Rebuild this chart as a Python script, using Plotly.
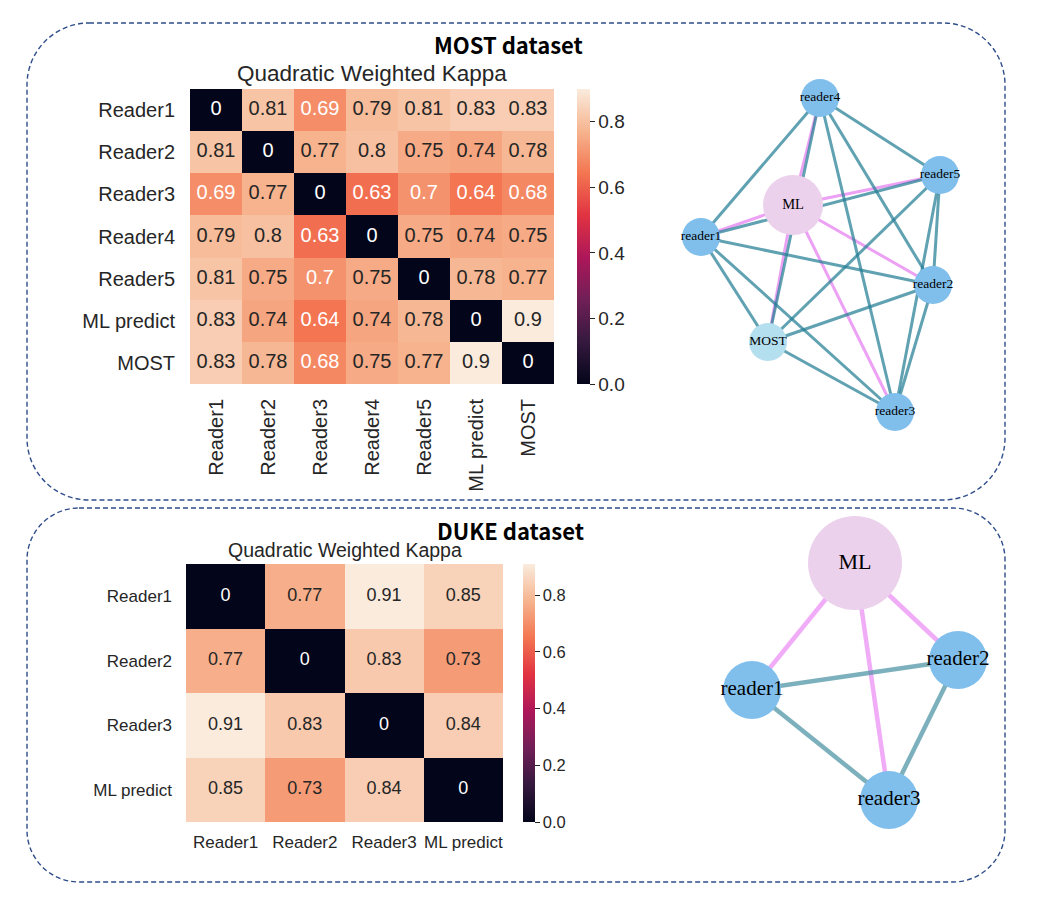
import plotly.graph_objects as go

W, H = 1045, 900
SANS = "Liberation Sans, Arial, sans-serif"
SERIF = "Liberation Serif, Times New Roman, serif"
TITLE_FONT = "Noto Sans CJK SC, Liberation Sans, sans-serif"

# ---------------- data ----------------
most_labels = ["Reader1", "Reader2", "Reader3", "Reader4", "Reader5", "ML predict", "MOST"]
most_kappa = [
    [0, 0.81, 0.69, 0.79, 0.81, 0.83, 0.83],
    [0.81, 0, 0.77, 0.8, 0.75, 0.74, 0.78],
    [0.69, 0.77, 0, 0.63, 0.7, 0.64, 0.68],
    [0.79, 0.8, 0.63, 0, 0.75, 0.74, 0.75],
    [0.81, 0.75, 0.7, 0.75, 0, 0.78, 0.77],
    [0.83, 0.74, 0.64, 0.74, 0.78, 0, 0.9],
    [0.83, 0.78, 0.68, 0.75, 0.77, 0.9, 0],
]
duke_labels = ["Reader1", "Reader2", "Reader3", "ML predict"]
duke_kappa = [
    [0, 0.77, 0.91, 0.85],
    [0.77, 0, 0.83, 0.73],
    [0.91, 0.83, 0, 0.84],
    [0.85, 0.73, 0.84, 0],
]
colorbar_ticks = [0.0, 0.2, 0.4, 0.6, 0.8]

# network layouts (page pixel frame)
most_nodes = ["reader4", "reader5", "ML", "reader1", "reader2", "MOST", "reader3"]
most_node_x = [820, 940, 793, 701, 933, 768, 895]
most_node_y = [98, 175, 205, 237, 285, 342, 412]
duke_nodes = ["ML", "reader2", "reader1", "reader3"]
duke_node_x = [855, 958, 752, 889]
duke_node_y = [563, 660, 690, 800]

rocket = [[0, "#03051a"], [1/7, "#35193e"], [2/7, "#701f57"], [3/7, "#ad1759"],
          [4/7, "#e13342"], [5/7, "#f37651"], [6/7, "#f6b48f"], [1, "#faebdd"]]

fig = go.Figure()


def add_heatmap(z, labels, xa, ya, zmax, cb_x, cb_y0, cb_y1, cb_thick, fs, cb_fs):
    fig.add_trace(go.Heatmap(
        z=z, x=labels, y=labels, xaxis=xa, yaxis=ya, zmin=0, zmax=zmax,
        colorscale=rocket, hoverinfo="skip",
        colorbar=dict(x=cb_x, xanchor="left", y=cb_y0, yanchor="bottom",
                      len=cb_y1 - cb_y0, lenmode="fraction",
                      thickness=cb_thick, thicknessmode="pixels",
                      outlinewidth=0, xpad=0, ypad=0, ticks="outside",
                      ticklen=5, tickwidth=1, tickcolor="#262626",
                      tickvals=colorbar_ticks, tickformat=".1f",
                      tickfont=dict(size=cb_fs, color="#262626", family=SANS))))
    xs, ys, ts, cs = [], [], [], []
    for i, row in enumerate(z):
        for j, v in enumerate(row):
            xs.append(labels[j]); ys.append(labels[i]); ts.append(f"{v:g}")
            cs.append("white" if v / zmax < 0.79 else "#262626")
    fig.add_trace(go.Scatter(x=xs, y=ys, mode="text", text=ts,
                             textfont=dict(color=cs, size=fs, family=SANS),
                             xaxis=xa, yaxis=ya, showlegend=False, hoverinfo="skip"))


add_heatmap(most_kappa, most_labels, "x", "y", 0.9, 577 / W, 1 - 384 / H, 1 - 89 / H, 13, 20, 19)
add_heatmap(duke_kappa, duke_labels, "x2", "y2", 0.91, 523 / W, 1 - 822 / H, 1 - 564 / H, 12, 18, 16.5)


def add_network(names, nx, ny, node_sizes, node_colors, font_sizes, ew, teal, pink):
    idx = {n: i for i, n in enumerate(names)}
    pairs = [(a, b) for i, a in enumerate(names) for b in names[i + 1:]]
    for want_ml in (True, False):
        for a, b in pairs:
            is_ml = "ML" in (a, b)
            if is_ml != want_ml:
                continue
            fig.add_trace(go.Scatter(
                x=[nx[idx[a]], nx[idx[b]]], y=[ny[idx[a]], ny[idx[b]]],
                mode="lines", line=dict(color=pink if is_ml else teal, width=ew),
                xaxis="x3", yaxis="y3", showlegend=False, hoverinfo="skip"))
    fig.add_trace(go.Scatter(
        x=nx, y=ny, mode="markers+text", text=names, textposition="middle center",
        marker=dict(size=node_sizes, color=node_colors, line=dict(width=0), opacity=1),
        textfont=dict(size=font_sizes, color="black", family=SERIF),
        xaxis="x3", yaxis="y3", showlegend=False, hoverinfo="skip"))


BLUE, PINKN, LBLUE = "#80bfec", "#ecd1ec", "#b4dfef"
add_network(most_nodes, most_node_x, most_node_y,
            [38 if n != "ML" else 60 for n in most_nodes],
            [PINKN if n == "ML" else (LBLUE if n == "MOST" else BLUE) for n in most_nodes],
            [14.5 if n == "ML" else 13.5 for n in most_nodes],
            3, "rgba(35,125,148,0.72)", "rgba(230,130,240,0.75)")
add_network(duke_nodes, duke_node_x, duke_node_y,
            [94 if n == "ML" else 58 for n in duke_nodes],
            [PINKN if n == "ML" else BLUE for n in duke_nodes],
            [22 if n == "ML" else 21 for n in duke_nodes],
            4.5, "rgba(80,150,165,0.75)", "rgba(235,140,245,0.72)")


def rounded(x0, y0, x1, y1, r):
    k = 0.5523 * r
    return (f"M {x0+r},{y0} L {x1-r},{y0} C {x1-r+k},{y0} {x1},{y0+r-k} {x1},{y0+r} "
            f"L {x1},{y1-r} C {x1},{y1-r+k} {x1-r+k},{y1} {x1-r},{y1} "
            f"L {x0+r},{y1} C {x0+r-k},{y1} {x0},{y1-r+k} {x0},{y1-r} "
            f"L {x0},{y0+r} C {x0},{y0+r-k} {x0+r-k},{y0} {x0+r},{y0} Z")


box_style = dict(type="path", xref="x3", yref="y3", layer="below",
                 line=dict(color="#2f4d8a", width=1.4, dash="5px,3px"))
shapes = [dict(path=rounded(27, 23, 1005, 500, 62), **box_style),
          dict(path=rounded(27, 508, 1005, 882, 52), **box_style)]

ann_common = dict(xref="paper", yref="paper", xanchor="center", yanchor="middle", showarrow=False)
annotations = [
    dict(text="<b>MOST dataset</b>", x=508 / W, y=1 - 44 / H,
         font=dict(size=22, color="black", family=TITLE_FONT), **ann_common),
    dict(text="<b>DUKE dataset</b>", x=510 / W, y=1 - 530 / H,
         font=dict(size=22, color="black", family=TITLE_FONT), **ann_common),
    dict(text="Quadratic Weighted Kappa", x=372 / W, y=1 - 73 / H,
         font=dict(size=22.5, color="#262626", family=SANS), **ann_common),
    dict(text="Quadratic Weighted Kappa", x=345 / W, y=1 - 550 / H,
         font=dict(size=19.5, color="#262626", family=SANS), **ann_common),
]

ax_common = dict(showgrid=False, zeroline=False, showline=False, ticks="", fixedrange=True)
fig.update_layout(
    width=W, height=H, margin=dict(l=0, r=0, t=0, b=0),
    paper_bgcolor="white", plot_bgcolor="rgba(0,0,0,0)", showlegend=False,
    xaxis=dict(domain=[190 / W, 554 / W], anchor="y", range=[-0.5, 6.5], tickangle=-90,
               tickfont=dict(size=20, color="#262626", family=SANS), ticklabelstandoff=10, **ax_common),
    yaxis=dict(domain=[1 - 384 / H, 1 - 89 / H], anchor="x", range=[6.5, -0.5],
               tickfont=dict(size=20, color="#262626", family=SANS), ticklabelstandoff=14, **ax_common),
    xaxis2=dict(domain=[186 / W, 503 / W], anchor="y2", range=[-0.5, 3.5],
                tickfont=dict(size=17, color="#262626", family=SANS), ticklabelstandoff=8, **ax_common),
    yaxis2=dict(domain=[1 - 822 / H, 1 - 564 / H], anchor="x2", range=[3.5, -0.5],
                tickfont=dict(size=17, color="#262626", family=SANS), ticklabelstandoff=13, **ax_common),
    xaxis3=dict(domain=[0, 1], anchor="y3", range=[0, W], visible=False, **ax_common),
    yaxis3=dict(domain=[0, 1], anchor="x3", range=[H, 0], visible=False, **ax_common),
    shapes=shapes, annotations=annotations,
)

fig.write_html("out.html", config={"displayModeBar": False},
               post_script="document.body.style.margin='0px';")
